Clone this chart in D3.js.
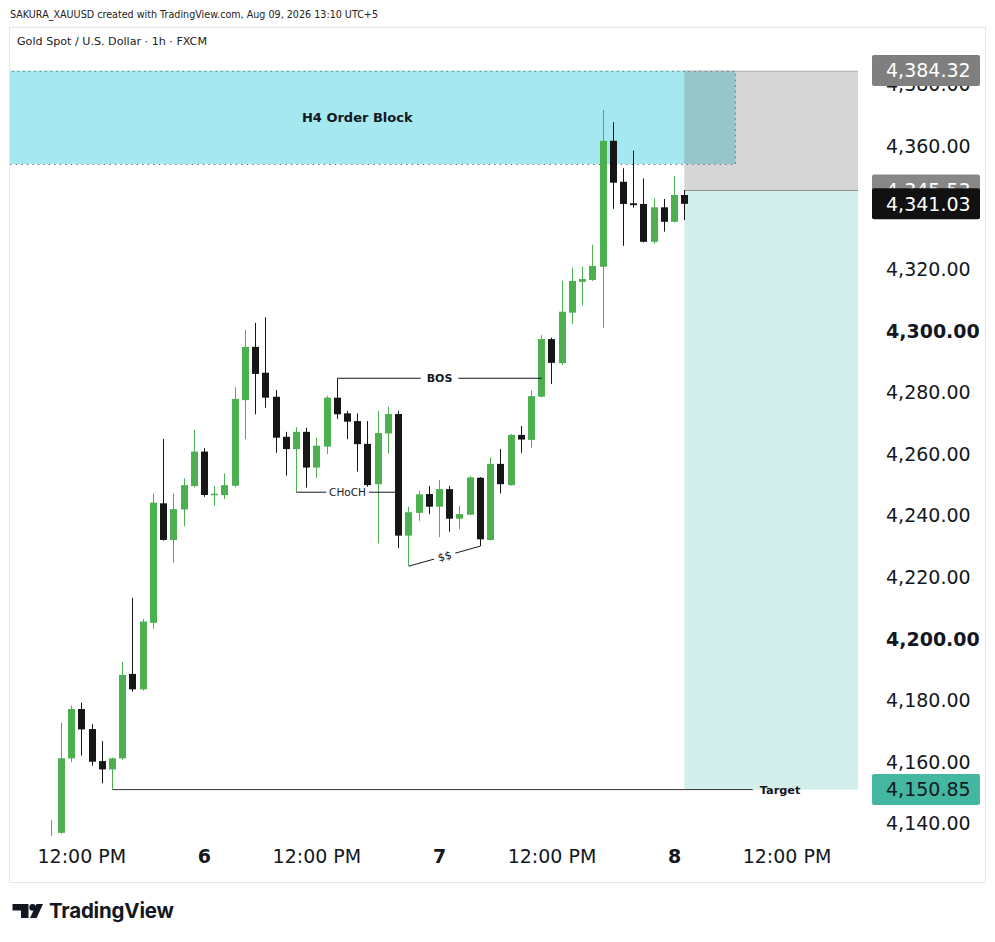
<!DOCTYPE html>
<html>
<head>
<meta charset="utf-8">
<script src="https://cdn.jsdelivr.net/npm/d3@7/dist/d3.min.js"></script>
<style>
  html, body { margin: 0; padding: 0; background: #ffffff; }
  svg { display: block; }
</style>
</head>
<body>
<svg id="chart" width="995" height="942"></svg>
<script>
// ---------------- DATA ----------------
const barTimes = [
  "Aug 5 09:00","Aug 5 10:00","Aug 5 11:00","Aug 5 12:00","Aug 5 13:00","Aug 5 14:00","Aug 5 15:00","Aug 5 16:00",
  "Aug 5 17:00","Aug 5 18:00","Aug 5 19:00","Aug 5 20:00","Aug 5 21:00","Aug 5 22:00","Aug 5 23:00",
  "Aug 6 00:00","Aug 6 01:00","Aug 6 03:00","Aug 6 04:00","Aug 6 05:00","Aug 6 06:00","Aug 6 07:00","Aug 6 08:00",
  "Aug 6 09:00","Aug 6 10:00","Aug 6 11:00","Aug 6 12:00","Aug 6 13:00","Aug 6 14:00","Aug 6 15:00","Aug 6 16:00",
  "Aug 6 17:00","Aug 6 18:00","Aug 6 19:00","Aug 6 20:00","Aug 6 21:00","Aug 6 22:00","Aug 6 23:00",
  "Aug 7 00:00","Aug 7 01:00","Aug 7 03:00","Aug 7 04:00","Aug 7 05:00","Aug 7 06:00","Aug 7 07:00","Aug 7 08:00",
  "Aug 7 09:00","Aug 7 10:00","Aug 7 11:00","Aug 7 12:00","Aug 7 13:00","Aug 7 14:00","Aug 7 15:00","Aug 7 16:00",
  "Aug 7 17:00","Aug 7 18:00","Aug 7 19:00","Aug 7 20:00","Aug 7 21:00","Aug 7 22:00","Aug 7 23:00",
  "Aug 8 00:00","Aug 8 01:00"
];
const opens  = [4128.0,4136.8,4161.0,4177.0,4170.5,4160.1,4157.4,4161.0,4188.4,4183.4,4205.0,4243.8,4231.9,4241.8,4249.4,
  4260.6,4246.5,4246.5,4249.5,4277.3,4294.6,4286.2,4278.4,4265.4,4261.4,4267.0,4255.4,4262.2,4278.1,4273.0,4270.5,
  4263.1,4250.0,4266.5,4272.8,4233.3,4240.7,4246.8,4242.7,4248.4,4238.8,4240.1,4252.1,4231.9,4256.6,4249.7,4266.0,
  4264.4,4278.4,4297.1,4289.3,4305.7,4315.7,4316.3,4320.6,4361.5,4348.2,4341.2,4341.0,4328.7,4339.9,4335.2,4343.9];
const highs  = [4141.0,4172.6,4178.1,4179.1,4172.1,4166.6,4161.2,4192.3,4213.1,4206.2,4247.0,4264.7,4247.0,4251.9,4267.6,
  4261.7,4249.4,4253.5,4281.5,4300.1,4302.4,4304.2,4280.6,4267.0,4268.5,4268.3,4265.1,4278.7,4284.4,4273.8,4273.0,
  4270.5,4273.8,4275.2,4273.8,4242.7,4247.9,4249.4,4251.4,4249.4,4243.0,4252.7,4252.3,4258.7,4261.4,4266.3,4268.9,
  4280.4,4298.4,4297.6,4316.0,4320.3,4320.6,4327.7,4371.5,4367.5,4352.6,4358.3,4349.3,4342.8,4342.6,4350.1,4345.5];
const lows   = [4124.0,4136.5,4159.8,4161.9,4158.6,4152.9,4150.85,4160.5,4182.6,4183.0,4203.1,4231.7,4224.5,4236.4,4249.0,
  4245.9,4243.0,4245.2,4249.0,4264.6,4272.7,4274.8,4260.2,4252.8,4247.4,4248.9,4252.1,4259.8,4271.2,4264.6,4254.1,
  4249.2,4230.8,4260.0,4229.2,4223.4,4238.1,4240.3,4232.8,4234.6,4235.4,4240.0,4229.9,4231.7,4247.0,4249.5,4260.2,
  4261.9,4278.2,4282.5,4288.7,4302.0,4308.0,4316.0,4300.8,4339.4,4327.4,4339.8,4328.5,4328.0,4332.0,4335.0,4335.8];
const closes = [4135.5,4161.0,4177.0,4170.4,4159.9,4157.4,4161.0,4188.1,4183.4,4205.4,4244.0,4231.9,4241.9,4249.7,4260.6,
  4246.5,4246.9,4249.7,4277.7,4294.6,4285.8,4278.1,4265.1,4261.4,4267.0,4255.4,4262.5,4278.1,4272.7,4270.3,4263.0,
  4249.7,4266.6,4272.8,4233.3,4240.9,4246.7,4242.7,4248.4,4238.8,4240.3,4252.2,4232.1,4256.6,4250.0,4266.0,4264.5,
  4278.6,4297.1,4289.4,4306.0,4316.0,4316.6,4320.9,4361.5,4347.9,4341.0,4340.6,4328.7,4339.9,4335.2,4343.9,4341.03];

const priceTicks = [4140,4160,4180,4200,4220,4240,4260,4280,4300,4320,4340,4360,4380];
const boldPriceTicks = [4200,4300];
const timeTickBars = [3,15,26,38,49,61,72];
const timeTickLabels = ["12:00 PM","6","12:00 PM","7","12:00 PM","8","12:00 PM"];
const boldTimeTicks = ["6","7","8"];

// position tool (short) and order block
const stopPrice = 4384.32, entryPrice = 4345.53, targetPrice = 4150.85, lastPrice = 4341.03;
const obTop = 4384.32, obBottom = 4353.96, obStartBar = -7, obEndBar = 67;
const posStartBar = 62, posEndBar = 79;
// annotations: [bar1, price1, bar2, price2, text]
const bosLine   = [28, 4284.4, 48, 4284.4, "BOS"];
const chochLine = [24, 4247.4, 34, 4247.4, "CHoCH"];
const ssLine    = [35, 4223.4, 42, 4229.9, "$$"];
const targetLine = [6, 4150.85, 68.7, 4150.85, "Target"];

// ---------------- LAYOUT ----------------
const svg = d3.select("#chart");
const plot = {left: 10, right: 860, top: 28, bottom: 836};
const GREEN = "#4caf50", BLACK = "#161616", TEXT = "#131722";
const FONT = "'DejaVu Sans', Verdana, sans-serif";
const AXIS_TEXT_X = 886;

const x = d3.scaleLinear().domain([-3.98, 79.19]).range([plot.left, plot.right]);
const y = d3.scaleLinear().domain([4135.78, 4398.12]).range([plot.bottom, plot.top]);

// header texts
svg.append("text").attr("x", 10).attr("y", 18.3)
  .attr("font-family", FONT).attr("font-size", 11).attr("fill", "#222")
  .attr("textLength", 368).attr("lengthAdjust", "spacingAndGlyphs")
  .text("SAKURA_XAUUSD created with TradingView.com, Aug 09, 2026 13:10 UTC+5");

// frame
svg.append("rect").attr("x", 9.5).attr("y", 27.5).attr("width", 976).attr("height", 855)
  .attr("fill", "#fff").attr("stroke", "#e6e6e6").attr("stroke-width", 1);

svg.append("text").attr("x", 17).attr("y", 45)
  .attr("font-family", FONT).attr("font-size", 11).attr("fill", "#222")
  .attr("textLength", 190).attr("lengthAdjust", "spacingAndGlyphs")
  .text("Gold Spot / U.S. Dollar \u00b7 1h \u00b7 FXCM");

svg.append("defs").append("clipPath").attr("id", "plotclip")
  .append("rect").attr("x", plot.left).attr("y", plot.top)
  .attr("width", plot.right - plot.left).attr("height", plot.bottom - plot.top);

const g = svg.append("g").attr("clip-path", "url(#plotclip)");

// order block
g.append("rect")
  .attr("x", x(obStartBar)).attr("y", y(obTop))
  .attr("width", x(obEndBar) - x(obStartBar)).attr("height", y(obBottom) - y(obTop))
  .attr("fill", "#a5e8ef");
// position tool: stop zone and target zone
g.append("rect")
  .attr("x", x(posStartBar)).attr("y", y(stopPrice))
  .attr("width", x(posEndBar) - x(posStartBar)).attr("height", y(entryPrice) - y(stopPrice))
  .attr("fill", "#737373").attr("fill-opacity", 0.29);
g.append("rect")
  .attr("x", x(posStartBar)).attr("y", y(entryPrice))
  .attr("width", x(posEndBar) - x(posStartBar)).attr("height", y(targetPrice) - y(entryPrice))
  .attr("fill", "#d4eeec");
g.append("line")
  .attr("x1", x(posStartBar)).attr("x2", x(posEndBar))
  .attr("y1", Math.round(y(entryPrice)) + 0.5).attr("y2", Math.round(y(entryPrice)) + 0.5)
  .attr("stroke", "#8f8f8f").attr("stroke-width", 1);
g.append("line")
  .attr("x1", x(posStartBar)).attr("x2", x(posEndBar))
  .attr("y1", Math.round(y(stopPrice)) + 0.5).attr("y2", Math.round(y(stopPrice)) + 0.5)
  .attr("stroke", "#bdbdbd").attr("stroke-width", 1);
// order block dotted border (on top)
g.append("rect")
  .attr("x", x(obStartBar)).attr("y", Math.round(y(obTop)) + 0.5)
  .attr("width", x(obEndBar) - x(obStartBar)).attr("height", Math.round(y(obBottom)) - Math.round(y(obTop)))
  .attr("fill", "none").attr("stroke", "#6f7a80").attr("stroke-width", 1.2)
  .attr("stroke-dasharray", "1.5,4");
g.append("text")
  .attr("x", x((obStartBar + obEndBar) / 2)).attr("y", (y(obTop) + y(obBottom)) / 2 + 4.5)
  .attr("text-anchor", "middle").attr("font-family", FONT).attr("font-size", 13)
  .attr("font-weight", "bold").attr("fill", TEXT).text("H4 Order Block");

// candles
const candles = barTimes.map((t, i) => ({t, i, o: opens[i], h: highs[i], l: lows[i], c: closes[i]}));
const cg = g.append("g");
const cs = cg.selectAll("g.candle").data(candles).join("g").attr("class", "candle");
cs.append("rect")
  .attr("x", d => Math.round(x(d.i)))
  .attr("y", d => y(d.h))
  .attr("width", 1)
  .attr("height", d => y(d.l) - y(d.h))
  .attr("fill", d => d.c >= d.o ? GREEN : BLACK);
cs.append("rect")
  .attr("x", d => Math.round(x(d.i)) - 3)
  .attr("y", d => y(Math.max(d.o, d.c)))
  .attr("width", 7)
  .attr("height", d => Math.max(1.5, Math.abs(y(d.o) - y(d.c))))
  .attr("fill", d => d.c >= d.o ? GREEN : BLACK);

// annotation lines with centred text gaps
function annot(spec, opts) {
  const [b1, p1, b2, p2, label] = spec;
  const X1 = x(b1) + 0.5, Y1 = y(p1), X2 = x(b2) + 0.5, Y2 = y(p2);
  const t = g.append("text")
    .attr("font-family", FONT).attr("font-size", opts.size)
    .attr("font-weight", opts.bold ? "bold" : "normal").attr("fill", TEXT)
    .attr("text-anchor", "middle").text(label);
  const w = t.node().getComputedTextLength();
  const len = Math.hypot(X2 - X1, Y2 - Y1);
  const ux = (X2 - X1) / len, uy = (Y2 - Y1) / len;
  const mx = (X1 + X2) / 2, my = (Y1 + Y2) / 2;
  const half = w / 2 + opts.pad;
  const ang = Math.atan2(Y2 - Y1, X2 - X1) * 180 / Math.PI;
  t.attr("transform", `translate(${mx},${my}) rotate(${ang})`).attr("y", opts.size * 0.36);
  [[X1, Y1, mx - ux * half, my - uy * half], [mx + ux * half, my + uy * half, X2, Y2]].forEach(s => {
    g.append("line").attr("x1", s[0]).attr("y1", s[1]).attr("x2", s[2]).attr("y2", s[3])
      .attr("stroke", TEXT).attr("stroke-width", 1);
  });
}
annot(bosLine, {size: 11, bold: true, pad: 6});
annot(chochLine, {size: 10.5, bold: false, pad: 3});
annot(ssLine, {size: 11, bold: false, pad: 4});

// target line + label at end
g.append("line")
  .attr("x1", x(targetLine[0]) + 0.5).attr("x2", x(targetLine[2]))
  .attr("y1", y(targetLine[1])).attr("y2", y(targetLine[3]))
  .attr("stroke", "#333").attr("stroke-width", 1);
g.append("text")
  .attr("x", x(targetLine[2]) + 7).attr("y", y(targetLine[1]) + 4)
  .attr("font-family", FONT).attr("font-size", 11.3).attr("font-weight", "bold")
  .attr("fill", TEXT).text(targetLine[4]);

// price axis
const yAxis = d3.axisRight(y).tickValues(priceTicks).tickSize(0).tickPadding(0)
  .tickFormat(d3.format(",.2f"));
const ya = svg.append("g").attr("transform", `translate(${AXIS_TEXT_X},0)`).call(yAxis);
ya.select(".domain").remove();
ya.selectAll("text")
  .attr("x", 0).attr("dy", "0.36em").attr("text-anchor", "start")
  .attr("font-family", FONT).attr("font-size", 19).attr("fill", TEXT)
  .attr("font-weight", d => boldPriceTicks.includes(d) ? "bold" : "normal");

// price tags
function tag(price, bg, fg) {
  const cy = y(price);
  svg.append("rect").attr("x", 872).attr("y", cy - 15.5).attr("width", 108).attr("height", 31)
    .attr("rx", 2).attr("fill", bg);
  svg.append("text").attr("x", AXIS_TEXT_X).attr("y", cy).attr("dy", "0.36em").attr("text-anchor", "start")
    .attr("font-family", FONT).attr("font-size", 19).attr("fill", fg)
    .text(d3.format(",.2f")(price));
}
tag(stopPrice, "#7f7f7f", "#ffffff");
tag(entryPrice, "#878787", "#ffffff");
tag(lastPrice, "#111111", "#ffffff");
tag(targetPrice, "#43b7a0", "#131722");

// time axis
const xAxis = d3.axisBottom(x).tickValues(timeTickBars).tickSize(0).tickPadding(0)
  .tickFormat((d, i) => timeTickLabels[i]);
const xa = svg.append("g").attr("transform", "translate(0,856)").call(xAxis);
xa.select(".domain").remove();
xa.selectAll("text")
  .attr("y", 0).attr("dy", "0.36em")
  .attr("font-family", FONT).attr("font-size", 19).attr("fill", TEXT)
  .attr("font-weight", (d, i) => boldTimeTicks.includes(timeTickLabels[i]) ? "bold" : "normal");

// TradingView logo
const logo = svg.append("g").attr("fill", "#131722");
logo.append("path").attr("d", "M12.5,904 H28.5 V918 H21 V910.5 H12.5 Z");
logo.append("circle").attr("cx", 32.6).attr("cy", 907.4).attr("r", 3.3);
logo.append("path").attr("d", "M36.5,904 H43 L36.6,918 H30 Z");
logo.append("text").attr("x", 49).attr("y", 918)
  .attr("font-family", "Inter, Roboto, sans-serif").attr("font-size", 20.5).attr("font-weight", 700)
  .attr("fill", "#131722").attr("letter-spacing", -0.2).text("TradingView");
</script>
</body>
</html>
